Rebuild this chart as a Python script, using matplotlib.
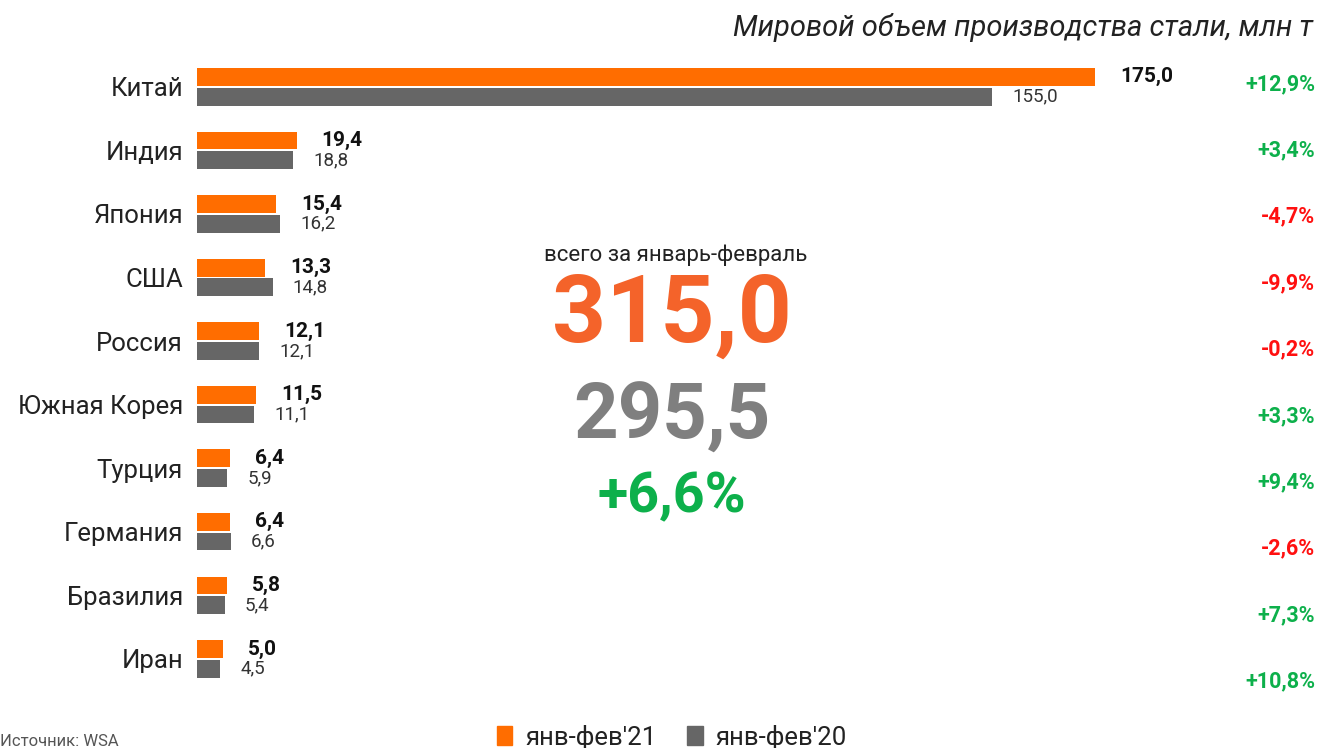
import matplotlib.pyplot as plt
from matplotlib.patches import Patch

plt.rcParams['font.family'] = ['Roboto', 'DejaVu Sans']

# Data
countries = ["Китай", "Индия", "Япония", "США", "Россия", "Южная Корея",
             "Турция", "Германия", "Бразилия", "Иран"]
jan_feb_21 = [175.0, 19.4, 15.4, 13.3, 12.1, 11.5, 6.4, 6.4, 5.8, 5.0]
jan_feb_20 = [155.0, 18.8, 16.2, 14.8, 12.1, 11.1, 5.9, 6.6, 5.4, 4.5]
changes = [12.9, 3.4, -4.7, -9.9, -0.2, 3.3, 9.4, -2.6, 7.3, 10.8]
total_21 = 315.0
total_20 = 295.5
total_change = 6.6

ORANGE = "#FF6D00"
GRAY = "#666666"
GREEN = "#0DB04B"
RED = "#FF1010"
W, H = 1318, 748


def fmt(v, sign=False):
    s = f"{v:+.1f}" if sign else f"{v:.1f}"
    return s.replace(".", ",")


fig = plt.figure(figsize=(W / 100, H / 100), dpi=100)
fig.patch.set_facecolor("white")

ax = fig.add_axes([197 / W, 1 - 690 / H, 1 - 197 / W, (690 - 55) / H])
ax.set_facecolor("none")

y = list(range(len(countries)))
bh = 0.28
y21 = [v - 0.155 for v in y]
y20 = [v + 0.155 for v in y]
ax.barh(y21, jan_feb_21, height=bh, color=ORANGE)
ax.barh(y20, jan_feb_20, height=bh, color=GRAY)

ax.set_xlim(0, (W - 197) / 5.13)
ax.set_ylim(9.49, -0.50)

for yy, v in zip(y21, jan_feb_21):
    ax.annotate(fmt(v), (v, yy), xytext=(25, 0), textcoords="offset pixels",
                ha="left", va="center", fontsize=15, fontweight="bold", color="#111111")
for yy, v in zip(y20, jan_feb_20):
    ax.annotate(fmt(v), (v, yy), xytext=(20, 0), textcoords="offset pixels",
                ha="left", va="center", fontsize=13.5, color="#333333")

ax.set_yticks(y)
ax.set_yticklabels(countries, fontsize=18.5, color="#222222")
ax.tick_params(axis="y", length=0, pad=10)
ax.set_xticks([])
for s in ax.spines.values():
    s.set_visible(False)

# percentage change column
for i, c in enumerate(changes):
    fig.text(1315 / W, 1 - (84 + i * 66.4) / H, fmt(c, sign=True) + "%",
             ha="right", va="center", fontsize=15.5, fontweight="bold",
             color=GREEN if c > 0 else RED)

# title
fig.text(1313 / W, 1 - 28 / H, "Мировой объем производства стали, млн т",
         ha="right", va="center", fontsize=21, fontstyle="italic", color="#222222")

# totals in the middle
fig.text(676 / W, 1 - 255 / H, "всего за январь-февраль", ha="center", va="center",
         fontsize=16, color="#222222")
fig.text(672 / W, 1 - 316 / H, fmt(total_21), ha="center", va="center",
         fontsize=68, fontweight="bold", color="#F4632A")
fig.text(672 / W, 1 - 418 / H, fmt(total_20), ha="center", va="center",
         fontsize=56, fontweight="bold", color="#7F7F7F")
fig.text(672 / W, 1 - 497 / H, fmt(total_change, sign=True) + "%", ha="center",
         va="center", fontsize=40, fontweight="bold", color=GREEN)

# legend
handles = [Patch(color=ORANGE, label="янв-фев'21"), Patch(color=GRAY, label="янв-фев'20")]
fig.legend(handles=handles, loc="center", bbox_to_anchor=(672 / W, 1 - 737 / H),
           ncol=2, frameon=False, fontsize=18.5, handlelength=0.6, handleheight=0.8,
           handletextpad=0.5, columnspacing=1.2, labelcolor="#222222",
           borderpad=0, borderaxespad=0)

fig.text(0, 1 - 742 / H, "Источник: WSA", ha="left", va="center",
         fontsize=12, color="#555555")

fig.savefig("out.png", dpi=100, facecolor="white")
